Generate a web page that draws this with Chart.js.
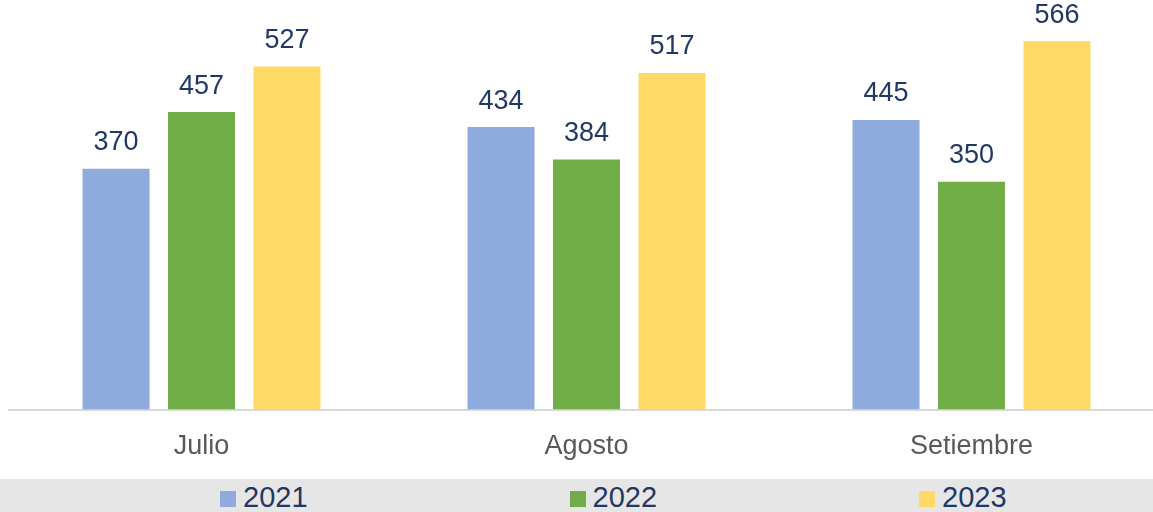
<!DOCTYPE html>
<html>
<head>
<meta charset="utf-8">
<script src="https://cdn.jsdelivr.net/npm/chart.js@4"></script>
<style>
  html, body { margin: 0; padding: 0; background: #fff; overflow: hidden; }
  #wrap { position: relative; width: 1153px; height: 512px; overflow: hidden; }
  #chart { position: absolute; left: 0; top: 0; }
  #legend {
    position: absolute; left: 0; top: 479px; width: 1153px; height: 33px;
    background: #e7e6e6; font-family: "Liberation Sans", Arial, sans-serif;
  }
  .item { position: absolute; top: 0; height: 33px; }
  .box { position: absolute; left: 0; top: 12px; width: 16px; height: 16px; }
  .txt {
    position: absolute; left: 23px; top: 4px; font-size: 29px; line-height: 29px;
    color: #1f3864; white-space: nowrap;
  }
</style>
</head>
<body>
<div id="wrap">
  <canvas id="chart" width="1164" height="476"></canvas>
  <div id="legend"></div>
</div>
<script>
// data
const months = ["Julio", "Agosto", "Setiembre"];
const years = ["2021", "2022", "2023"];
const values2021 = [370, 434, 445];
const values2022 = [457, 384, 350];
const values2023 = [527, 517, 566];
const colors = ["#8faadc", "#70ad47", "#ffd966"];

const FONT = '"Liberation Sans", Arial, sans-serif';

// value labels above each bar
const barLabels = {
  id: "barLabels",
  afterDatasetsDraw(chart) {
    const ctx = chart.ctx;
    ctx.save();
    ctx.font = "27px " + FONT;
    ctx.fillStyle = "#1f3864";
    ctx.textAlign = "center";
    ctx.textBaseline = "middle";
    chart.data.datasets.forEach((ds, i) => {
      chart.getDatasetMeta(i).data.forEach((bar, j) => {
        ctx.fillText(String(ds.data[j]), bar.x, bar.y - 26);
      });
    });
    ctx.restore();
  },
};

const series = [values2021, values2022, values2023];

const chart = new Chart(document.getElementById("chart"), {
  type: "bar",
  data: {
    labels: months,
    datasets: series.map((vals, i) => ({
      label: years[i],
      data: vals,
      backgroundColor: colors[i],
      categoryPercentage: 0.666,
      barPercentage: 0.784,
    })),
  },
  options: {
    responsive: false,
    animation: false,
    layout: { padding: { left: 9, right: 0, top: 19, bottom: 0 } },
    plugins: {
      legend: { display: false },
      tooltip: { enabled: false },
    },
    scales: {
      x: {
        grid: { display: false },
        border: { display: true, color: "#d9d9d9", width: 2 },
        ticks: {
          color: "#595959",
          font: { family: FONT, size: 27 },
          padding: 13,
        },
      },
      y: {
        display: false,
        min: 0,
        max: 600,
      },
    },
  },
  plugins: [barLabels],
});

// html legend
const legend = document.getElementById("legend");
years.forEach((y, i) => {
  const item = document.createElement("div");
  item.className = "item";
  item.style.left = 220 + i * 349.5 + "px";
  item.innerHTML =
    '<span class="box" style="background:' + colors[i] + '"></span>' +
    '<span class="txt">' + y + "</span>";
  legend.appendChild(item);
});
</script>
</body>
</html>
